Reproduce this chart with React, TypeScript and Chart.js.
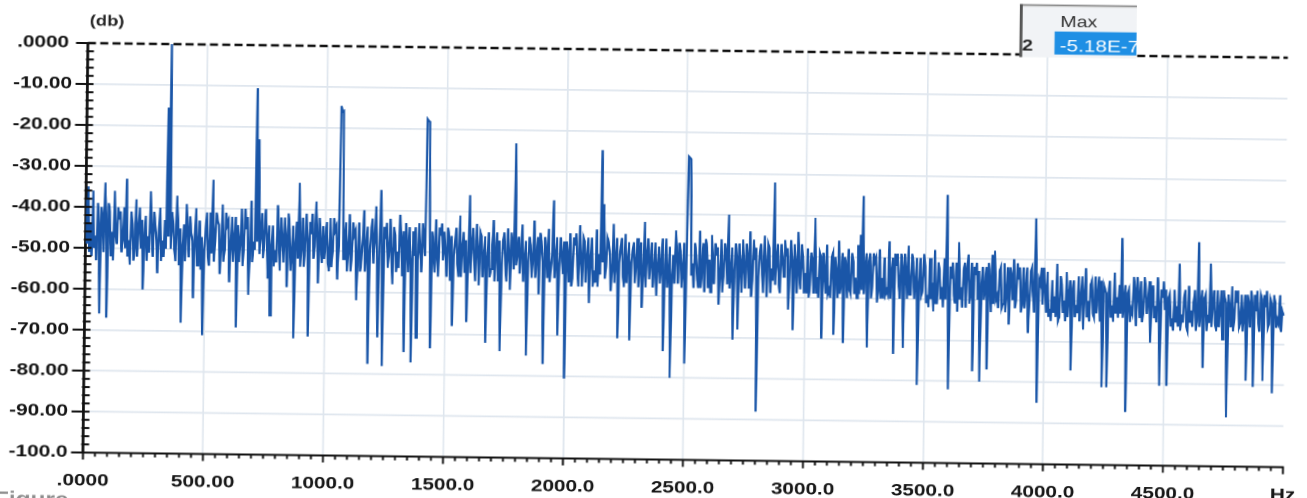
import React, { useEffect, useRef } from 'react';
import { Chart, registerables } from 'chart.js';

Chart.register(...registerables);

// ---- data (dB per 5 Hz bin) ----
const binHz = 5;
const db0to495 = [
  -38, -49, -35, -51, -44, -52, -36, -50, -47, -53,
  -39, -44, -66, -40, -42, -51, -34, -43, -67, -39,
  -41, -52, -46, -53, -36, -47, -49, -40, -43, -41,
  -51, -48, -40, -50, -33, -52, -48, -54, -41, -44,
  -53, -50, -38, -52, -45, -40, -50, -43, -60, -47,
  -42, -53, -47, -51, -36, -45, -52, -41, -44, -48,
  -56, -46, -40, -53, -48, -52, -43, -50, -15.5, -47,
  0, -50, -41, -44, -50, -53, -37, -44, -54, -45,
  -68, -49, -44, -53, -39, -45, -52, -42, -46, -48,
  -62, -47, -40, -54, -49, -43, -55, -47, -71, -50,
];
const db500to995 = [
  -45, -41, -52, -54, -41, -51, -33, -53, -48, -41,
  -43, -44, -56, -50, -39, -53, -50, -41, -44, -43,
  -58, -49, -42, -53, -47, -42, -69, -44, -53, -48,
  -40, -54, -49, -40, -45, -42, -61, -50, -38, -53,
  -48, -50, -10.5, -48, -23, -51, -46, -41, -52, -47,
  -40, -46, -57, -44, -66, -49, -44, -54, -50, -53,
  -39, -46, -55, -42, -47, -53, -42, -47, -59, -41,
  -45, -55, -51, -44, -71.5, -48, -43, -52, -33.5, -54,
  -49, -42, -54, -49, -41, -47, -71, -43, -46, -41,
  -52, -49, -38, -46, -58, -42, -48, -53, -44, -52,
];
const db1000to1495 = [
  -47, -43, -53, -55, -42, -54, -50, -42, -45, -44,
  -57, -49, -14.6, -16, -15.8, -52, -48, -43, -55, -50,
  -41, -55, -51, -43, -46, -45, -62, -51, -43, -55,
  -52, -47, -40, -55, -49, -44, -77.5, -50, -45, -42,
  -53, -47, -39, -52, -71, -49, -35, -48, -78, -44,
  -47, -43, -54, -50, -42, -51, -58, -44, -46, -55,
  -50, -54, -41, -46, -56, -45, -74.5, -43, -48, -55,
  -44, -52, -77, -45, -51, -44, -71, -52, -43, -50,
  -55, -43, -47, -51, -17.6, -18, -18.2, -50, -73.5, -45,
  -49, -55, -42, -51, -56, -44, -46, -43, -52, -45,
];
const db1500to1995 = [
  -50, -56, -44, -46, -57, -46, -68, -51, -47, -44,
  -53, -56, -41, -56, -49, -45, -55, -47, -67, -53,
  -36, -55, -48, -44, -52, -57, -43, -49, -58, -45,
  -46, -56, -51, -46, -72, -51, -45, -56, -54, -48,
  -42, -57, -50, -45, -57, -47, -74, -53, -47, -45,
  -53, -57, -44, -50, -59, -45, -48, -54, -23.2, -53,
  -50, -46, -55, -50, -43, -57, -52, -47, -75, -52,
  -46, -48, -56, -51, -42, -56, -51, -46, -60, -45,
  -47, -52, -77, -46, -49, -56, -44, -57, -54, -50,
  -37, -56, -52, -46, -70, -53, -46, -50, -55, -47,
];
const db2000to2495 = [
  -80.5, -47, -50, -57, -45, -58, -56, -46, -48, -45,
  -53, -58, -43, -51, -58, -46, -47, -57, -51, -46,
  -62, -51, -46, -58, -54, -57, -44, -58, -50, -55,
  -24.6, -52, -37.8, -56, -53, -46, -47, -50, -59, -54,
  -42.6, -57, -51, -46, -70.5, -52, -48, -46, -55, -58,
  -45, -57, -52, -47, -71, -52, -49, -47, -57, -52,
  -46, -58, -53, -47, -63, -55, -42, -58, -50, -46,
  -56, -52, -47, -58, -54, -47, -60, -53, -48, -57,
  -52, -46, -73.5, -55, -46, -58, -55, -48, -80, -55,
  -50, -57, -44, -50, -57, -47, -49, -58, -53, -47,
];
const db2500to2995 = [
  -76.5, -52, -25.9, -26.2, -26.5, -55, -52, -58, -47, -50,
  -56, -58, -44, -58, -53, -47, -59, -46, -48, -58,
  -51, -59, -45, -52, -57, -47, -50, -48, -62, -55,
  -46, -59, -54, -47, -49, -57, -40, -58, -55, -48,
  -70.5, -54, -47, -50, -68, -47, -52, -59, -46, -53,
  -58, -47, -50, -58, -44, -60, -56, -46, -51, -48,
  -88, -55, -49, -47, -54, -59, -45, -52, -60, -47,
  -48, -59, -53, -56, -32, -57, -51, -47, -57, -59,
  -47, -50, -55, -46, -50, -48, -63, -55, -46, -51,
  -68, -47, -52, -59, -44, -54, -58, -47, -50, -59,
];
const db3000to3495 = [
  -54, -59, -48, -60, -57, -49, -51, -59, -40.5, -59,
  -55, -60, -49, -50, -70, -49, -53, -59, -47, -59,
  -58, -60, -50, -49, -69, -50, -54, -60, -46, -59,
  -56, -49, -71, -50, -52, -60, -48, -58, -59, -49,
  -51, -59, -55, -60, -47, -59, -44.5, -58, -35, -59,
  -53, -49, -72, -51, -49, -60, -57, -49, -51, -50,
  -61, -58, -48, -60, -55, -60, -50, -59, -58, -59,
  -46, -60, -54, -50, -73.5, -49, -52, -49, -57, -60,
  -49, -52, -72, -49, -53, -60, -47, -59, -59, -49,
  -51, -60, -56, -50, -81, -56, -50, -59, -58, -49,
];
const db3500to3995 = [
  -52, -61, -59, -62, -50, -60, -56, -63, -48, -61,
  -61, -51, -53, -60, -57, -62, -50, -60, -34.5, -57,
  -82, -52, -55, -51, -59, -61, -51, -63, -46, -60,
  -57, -62, -53, -51, -62, -52, -49, -61, -58, -51,
  -77.5, -52, -54, -51, -60, -53, -80, -56, -52, -60,
  -57, -52, -77, -51, -55, -63, -49, -61, -48, -60,
  -59, -62, -53, -52, -62, -61, -51, -63, -58, -52,
  -66, -52, -54, -60, -50, -62, -60, -51, -55, -52,
  -63, -61, -52, -62, -57, -52, -68, -61, -53, -52,
  -59, -63, -40, -58, -85, -55, -56, -52, -61, -52,
];
const db4000to4495 = [
  -57, -63, -53, -64, -62, -65, -55, -63, -59, -64,
  -51, -65, -64, -54, -56, -63, -60, -65, -53, -64,
  -58, -55, -77, -57, -55, -64, -61, -63, -54, -65,
  -59, -54, -67, -58, -52, -64, -60, -65, -56, -55,
  -63, -64, -54, -63, -58, -54, -65, -55, -81, -56,
  -57, -58, -81, -58, -55, -64, -61, -65, -53, -63,
  -59, -64, -56, -63, -44.5, -64, -60, -56, -87, -58,
  -57, -65, -62, -63, -54, -57, -66, -54, -58, -64,
  -55, -65, -63, -54, -57, -63, -60, -55, -70, -59,
  -56, -64, -61, -65, -54, -60, -80.5, -57, -59, -55,
];
const db4500to4995 = [
  -62, -57, -80.5, -59, -58, -66, -64, -67, -57, -65,
  -61, -66, -50.6, -67, -63, -65, -59, -57, -66, -67,
  -56, -65, -62, -66, -60, -57, -67, -64, -45.3, -66,
  -61, -57, -76, -59, -58, -67, -63, -65, -50.5, -66,
  -60, -57, -65, -67, -57, -66, -62, -57, -69, -57,
  -59, -60, -88, -58, -61, -66, -56, -67, -64, -57,
  -60, -57, -66, -65, -58, -67, -63, -58, -79, -58,
  -60, -66, -57, -60, -80.5, -58, -62, -57, -65, -67,
  -58, -59, -79, -58, -61, -57, -66, -65, -59, -60,
  -82, -58, -60, -66, -64, -65, -58, -67, -62, -63,
];

const xTickValues = [0, 500, 1000, 1500, 2000, 2500, 3000, 3500, 4000, 4500, 5000];
const xTickLabels = ['.0000', '500.00', '1000.0', '1500.0', '2000.0', '2500.0', '3000.0', '3500.0', '4000.0', '4500.0', 'Hz'];
const yTickValues = [-100, -90, -80, -70, -60, -50, -40, -30, -20, -10, 0];
const yTickLabels = ['-100.0', '-90.00', '-80.00', '-70.00', '-60.00', '-50.00', '-40.00', '-30.00', '-20.00', '-10.00', '.0000'];
const xMinorStep = 50;
const yMinorStep = 2;
const maxMarkerDb = 0;
const yAxisTitle = '(db)';
const maxTableHeader = 'Max';
const maxTableRow = '2';
const maxTableValue = '-5.18E-7';
const captionText = 'Figure';

// ---- styles ----
const FONT = '"Liberation Sans", Arial, sans-serif';
const LINE = '#1a56a8';
const AXIS = '#111111';
const GRID = '#dfe6ee';
const TEXT = '#161616';
const SX = 1.22; // horizontal stretch of the scanned picture
const TILT = 0.7; // degrees of the scan rotation

const decor: any = {
  id: 'decor',
  afterDatasetsDraw(chart: any) {
    const { ctx, chartArea: a, scales } = chart;
    const xs = scales.x;
    const ys = scales.y;
    ctx.save();
    // dashed marker line at the max level
    const ym = ys.getPixelForValue(maxMarkerDb);
    ctx.strokeStyle = AXIS;
    ctx.lineWidth = 2.4;
    ctx.setLineDash([6.6, 3.4]);
    ctx.beginPath();
    ctx.moveTo(a.left, ym);
    ctx.lineTo(a.right, ym);
    ctx.stroke();
    ctx.setLineDash([]);
    // y ticks (major + minor)
    ctx.lineWidth = 2;
    const yMin = yTickValues[0];
    const yCount = Math.round((yTickValues[yTickValues.length - 1] - yMin) / yMinorStep);
    for (let k = 0; k <= yCount; k++) {
      const py = ys.getPixelForValue(yMin + k * yMinorStep);
      const major = k % 5 === 0;
      ctx.beginPath();
      ctx.moveTo(a.left - (major ? 9.8 : 1.6), py);
      ctx.lineTo(a.left + 4.9, py);
      ctx.stroke();
    }
    // x ticks
    ctx.lineWidth = 1.6;
    const xCount = Math.round(xTickValues[xTickValues.length - 1] / xMinorStep);
    for (let k = 0; k <= xCount; k++) {
      const px = xs.getPixelForValue(k * xMinorStep);
      const major = k % 10 === 0;
      ctx.beginPath();
      ctx.moveTo(px, a.bottom);
      ctx.lineTo(px, a.bottom + (major ? 7 : 4));
      ctx.stroke();
    }
    ctx.restore();
  },
  afterDraw(chart: any) {
    const { ctx, chartArea: a } = chart;
    const R = a.right;
    const T = a.top;
    ctx.save();
    // axis title
    ctx.font = `bold 15px ${FONT}`;
    ctx.fillStyle = '#222';
    ctx.textAlign = 'center';
    ctx.textBaseline = 'middle';
    ctx.fillText(yAxisTitle, a.left + 15.4, T - 21.5);

    // small "Max" table widget
    const bx = R - 220.2;
    const by = T - 50.4;
    const bw = 96;
    const bh = 53;
    ctx.fillStyle = '#f1f3f6';
    ctx.fillRect(bx, by, bw, bh);
    ctx.fillStyle = '#8a8a8a';
    ctx.fillRect(bx, by, bw, 1.6);
    ctx.fillStyle = '#cfcfcf';
    ctx.fillRect(bx, by + 1.6, bw, 1);
    ctx.fillStyle = '#555';
    ctx.fillRect(bx, by, 2.4, bh);
    ctx.fillStyle = '#1f8fe4';
    const cx0 = R - 191.4;
    const cy0 = T - 23.4;
    const cw = 67.2;
    const ch = 23;
    ctx.fillRect(cx0, cy0, cw, ch);
    ctx.fillStyle = '#333';
    ctx.font = `16px ${FONT}`;
    ctx.fillText(maxTableHeader, R - 171.8, T - 32.2);
    ctx.font = `bold 16px ${FONT}`;
    ctx.fillStyle = '#222';
    ctx.fillText(maxTableRow, R - 213.6, T - 8.5);
    ctx.save();
    ctx.beginPath();
    ctx.rect(cx0, cy0, cw, ch);
    ctx.clip();
    ctx.fillStyle = '#ffffff';
    ctx.font = `17px ${FONT}`;
    ctx.textAlign = 'left';
    ctx.fillText(maxTableValue, R - 187.2, T - 8.4);
    ctx.restore();

    // caption cut by the page edge
    ctx.font = `bold 20px ${FONT}`;
    ctx.fillStyle = '#8d8d8d';
    ctx.textAlign = 'left';
    ctx.textBaseline = 'top';
    ctx.fillText(captionText, 0, 510);
    ctx.restore();
  },
};

export default function App() {
  const ref = useRef<HTMLCanvasElement>(null);
  useEffect(() => {
    const all = [
      ...db0to495, ...db500to995, ...db1000to1495, ...db1500to1995, ...db2000to2495,
      ...db2500to2995, ...db3000to3495, ...db3500to3995, ...db4000to4495, ...db4500to4995,
    ];
    const points = all.map((v, i) => ({ x: i * binHz, y: v }));
    const chart = new Chart(ref.current as HTMLCanvasElement, {
      type: 'line',
      data: {
        datasets: [
          {
            data: points,
            borderColor: LINE,
            borderWidth: 1.8,
            pointRadius: 0,
            tension: 0,
            fill: false,
          },
        ],
      },
      options: {
        animation: false,
        responsive: true,
        maintainAspectRatio: false,
        devicePixelRatio: 2,
        events: [],
        layout: { padding: { top: 62, left: 0, right: 43.85, bottom: 2 } },
        plugins: { legend: { display: false }, tooltip: { enabled: false } },
        scales: {
          x: {
            type: 'linear',
            min: xTickValues[0],
            max: xTickValues[xTickValues.length - 1],
            afterBuildTicks: (s: any) => {
              s.ticks = xTickValues.map((v) => ({ value: v }));
            },
            afterFit: (s: any) => {
              s.height = 46.5;
            },
            ticks: {
              autoSkip: false,
              maxRotation: 0,
              padding: 18,
              color: TEXT,
              font: { family: FONT, size: 17, weight: 'bold' },
              callback: (_v: any, i: number) => xTickLabels[i],
            },
            grid: {
              drawTicks: false,
              lineWidth: 1.4,
              color: (c: any) =>
                c.tick && (c.tick.value === xTickValues[0] || c.tick.value === xTickValues[xTickValues.length - 1])
                  ? 'rgba(0,0,0,0)'
                  : GRID,
            },
            border: { display: true, color: AXIS, width: 2 },
          },
          y: {
            type: 'linear',
            min: yTickValues[0],
            max: yTickValues[yTickValues.length - 1],
            afterBuildTicks: (s: any) => {
              s.ticks = yTickValues.map((v) => ({ value: v }));
            },
            afterFit: (s: any) => {
              s.width = 72.54;
            },
            ticks: {
              autoSkip: false,
              padding: 12.7,
              crossAlign: 'center',
              color: TEXT,
              font: { family: FONT, size: 17, weight: 'bold' },
              callback: (_v: any, i: number) => yTickLabels[i],
            },
            grid: {
              drawTicks: false,
              lineWidth: 1.8,
              color: (c: any) =>
                c.tick && (c.tick.value === yTickValues[0] || c.tick.value === yTickValues[yTickValues.length - 1])
                  ? 'rgba(0,0,0,0)'
                  : GRID,
            },
            border: { display: true, color: AXIS, width: 2 },
          },
        },
      } as any,
      plugins: [decor],
    });
    return () => chart.destroy();
  }, []);

  return (
    <div
      style={{
        position: 'fixed',
        left: 0,
        top: 0,
        width: 1307,
        height: 498,
        overflow: 'hidden',
        background: '#ffffff',
      }}
    >
      <div
        style={{
          position: 'absolute',
          left: 0,
          top: -20,
          width: 1100,
          height: 520,
          transformOrigin: '0px 20px',
          transform: `rotate(${TILT}deg) scaleX(${SX})`,
        }}
      >
        <canvas ref={ref} />
      </div>
    </div>
  );
}
